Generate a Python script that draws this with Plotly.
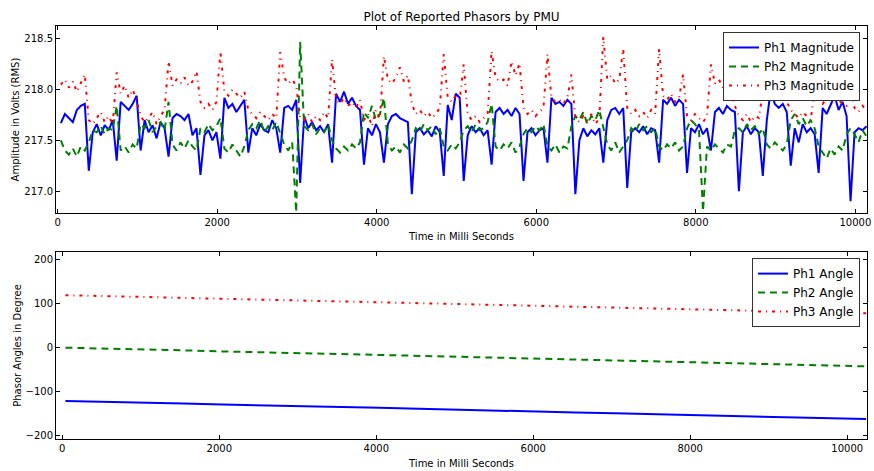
import plotly.graph_objects as go

# ---------------- data ----------------
TIME_MS = list(range(40, 10141, 50))

PH1_MAG = [
    217.67, 217.76, 217.72, 217.68, 217.80, 217.84, 217.86, 217.20, 217.58, 217.66,
    217.55, 217.65, 217.60, 217.70, 217.30, 217.88, 217.84, 217.80, 217.86, 217.94,
    217.40, 217.70, 217.58, 217.65, 217.52, 217.68, 217.62, 217.34, 217.72, 217.76,
    217.74, 217.70, 217.76, 217.55, 217.62, 217.16, 217.55, 217.60, 217.50, 217.58,
    217.32, 217.92, 217.82, 217.86, 217.78, 217.84, 217.90, 217.38, 217.62, 217.55,
    217.66, 217.60, 217.58, 217.70, 217.62, 217.38, 217.82, 217.84, 217.80, 217.90,
    217.08, 217.74, 217.62, 217.68, 217.60, 217.64, 217.58, 217.66, 217.28, 217.96,
    217.88, 217.98, 217.86, 217.92, 217.84, 217.80, 217.26, 217.62, 217.55, 217.66,
    217.58, 217.28, 217.66, 217.74, 217.76, 217.72, 217.70, 217.68, 216.97, 217.58,
    217.62, 217.56, 217.60, 217.54, 217.64, 217.58, 217.15, 217.85, 217.70, 217.96,
    217.92, 217.10, 217.55, 217.64, 217.58, 217.62, 217.55, 217.60, 217.26, 217.78,
    217.82, 217.76, 217.80, 217.74, 217.82, 217.76, 217.10, 217.58, 217.62, 217.55,
    217.60, 217.62, 217.28, 217.92, 217.86, 217.88, 217.84, 217.90, 217.86, 216.97,
    217.50, 217.62, 217.54, 217.60, 217.56, 217.62, 217.28, 217.70, 217.80, 217.82,
    217.76, 217.82, 217.03, 217.58, 217.62, 217.58, 217.64, 217.56, 217.62, 217.60,
    217.28, 217.90, 217.86, 217.92, 217.84, 217.90, 217.86, 217.18, 217.62, 217.58,
    217.66, 217.56, 217.62, 217.40, 217.78, 217.82, 217.76, 217.84, 217.80, 217.78,
    217.00, 217.58, 217.64, 217.56, 217.62, 217.58, 217.15, 217.70, 218.00, 217.86,
    217.82, 217.86, 217.78, 217.25, 217.62, 217.48, 217.66, 217.58, 217.62, 217.56,
    217.18, 217.82, 217.76, 217.86, 217.94, 217.80, 217.88, 217.74, 216.90, 217.58,
    217.62, 217.60, 217.64,
]

PH2_MAG = [
    217.50, 217.40, 217.36, 217.42, 217.34, 217.44, 217.40, 217.48, 217.60, 217.58,
    217.64, 217.56, 217.62, 217.60, 217.84, 217.40, 217.44, 217.38, 217.46, 217.42,
    217.66, 217.62, 217.70, 217.58, 217.64, 217.68, 217.60, 217.88, 217.46, 217.40,
    217.48, 217.42, 217.50, 217.44, 217.40, 217.62, 217.58, 217.66, 217.60, 217.64,
    217.72, 217.42, 217.38, 217.46, 217.40, 217.34, 217.44, 217.60, 217.66, 217.62,
    217.70, 217.58, 217.64, 217.60, 217.68, 217.56, 217.46, 217.40, 217.48, 216.79,
    218.47, 217.64, 217.60, 217.66, 217.56, 217.62, 217.58, 217.66, 217.50, 217.42,
    217.38, 217.44, 217.40, 217.46, 217.42, 217.48, 217.78, 217.72, 217.84, 217.70,
    217.76, 217.92, 217.46, 217.40, 217.44, 217.38, 217.46, 217.42, 217.50, 217.62,
    217.58, 217.66, 217.60, 217.64, 217.56, 217.62, 217.44, 217.40, 217.46, 217.42,
    217.48, 217.60, 217.64, 217.58, 217.66, 217.60, 217.62, 217.68, 217.86, 217.44,
    217.40, 217.46, 217.42, 217.48, 217.38, 217.44, 217.56, 217.62, 217.58, 217.64,
    217.60, 217.66, 217.44, 217.40, 217.46, 217.38, 217.44, 217.42, 217.64, 217.74,
    217.70, 217.78, 217.66, 217.74, 217.70, 217.80, 217.62, 217.46, 217.40, 217.48,
    217.38, 217.44, 217.50, 217.62, 217.58, 217.66, 217.60, 217.64, 217.58, 217.62,
    217.44, 217.40, 217.46, 217.42, 217.48, 217.40, 217.44, 217.62, 217.70, 217.66,
    217.60, 216.80, 217.44, 217.40, 217.46, 217.42, 217.38, 217.46, 217.44, 217.60,
    217.62, 217.58, 217.66, 217.60, 217.64, 217.56, 217.62, 217.46, 217.42, 217.48,
    217.44, 217.40, 217.46, 217.70, 217.76, 217.66, 217.72, 217.64, 217.70, 217.62,
    217.44, 217.38, 217.32, 217.42, 217.36, 217.44, 217.40, 217.56, 217.62, 217.56,
    217.48, 217.60, 217.54,
]

PH3_MAG = [
    218.05, 218.10, 218.02, 218.08, 217.98, 218.06, 218.15, 217.70, 217.66, 217.72,
    217.78, 217.68, 217.74, 217.66, 218.17, 217.96, 218.04, 217.92, 218.00, 217.90,
    217.74, 217.68, 217.72, 217.78, 217.66, 217.74, 217.80, 218.28, 218.04, 218.10,
    218.06, 218.12, 218.04, 218.08, 218.18, 217.88, 217.82, 217.86, 217.80, 217.88,
    218.38, 217.98, 217.94, 218.00, 217.96, 217.92, 217.98, 217.80, 217.76, 217.72,
    217.78, 217.74, 217.70, 217.76, 217.72, 218.37, 218.12, 218.06, 218.10, 218.04,
    217.72, 217.70, 217.76, 217.68, 217.74, 217.70, 217.78, 217.72, 218.30, 217.90,
    217.86, 217.92, 217.84, 217.88, 217.82, 217.90, 217.70, 217.76, 217.64, 217.80,
    217.72, 218.33, 218.10, 218.06, 218.12, 218.22, 218.08, 218.14, 217.86, 217.76,
    217.80, 217.74, 217.78, 217.72, 217.76, 217.82, 218.35, 217.92, 217.88, 217.94,
    217.90, 218.25, 217.76, 217.70, 217.74, 217.68, 217.72, 217.76, 218.38, 218.12,
    218.08, 218.10, 218.04, 218.28, 218.14, 218.26, 217.82, 217.76, 217.80, 217.74,
    217.78, 217.82, 218.35, 217.92, 217.88, 217.90, 217.86, 217.92, 218.15, 217.72,
    217.68, 217.74, 217.70, 217.76, 217.66, 217.72, 218.52, 218.10, 218.14, 218.06,
    218.10, 218.40, 217.82, 217.76, 217.80, 217.74, 217.78, 217.72, 217.80, 217.76,
    218.40, 217.94, 217.90, 217.96, 217.88, 217.92, 218.15, 217.74, 217.70, 217.76,
    217.72, 217.68, 217.74, 218.25, 218.06, 218.10, 218.02, 218.08, 218.00, 217.84,
    217.74, 217.70, 217.76, 217.68, 217.74, 217.72, 217.98, 217.94, 218.00, 217.96,
    217.90, 217.94, 217.88, 217.80, 217.76, 217.72, 217.78, 217.74, 217.70, 218.00,
    217.90, 217.86, 217.92, 217.88, 217.94, 217.90, 217.86, 217.84, 218.00, 217.82,
    217.78, 217.84, 217.80,
]

ANGLE_TIME_MS = [40, 540, 1040, 1540, 2040, 2540, 3040, 3540, 4040, 4540, 5040,
                 5540, 6040, 6540, 7040, 7540, 8040, 8540, 9040, 9540, 10040, 10240]
PH1_ANG = [-122.5, -124.0, -126.0, -128.0, -130.5, -132.0, -134.0, -136.0, -138.0, -140.0, -142.5,
           -144.5, -146.5, -148.5, -150.5, -152.5, -154.5, -156.5, -158.5, -160.5, -162.5, -163.5]
PH2_ANG = [-1.0, -2.5, -5.0, -7.0, -9.5, -11.0, -13.5, -15.5, -17.5, -19.5, -21.5,
           -23.5, -25.5, -27.5, -29.5, -31.5, -33.5, -35.5, -37.5, -40.0, -42.0, -43.5]
PH3_ANG = [118.5, 116.5, 114.5, 112.0, 110.0, 108.0, 106.5, 104.0, 102.0, 100.5, 98.5,
           96.0, 94.0, 92.5, 90.0, 88.0, 86.0, 84.5, 82.5, 80.0, 78.5, 77.5]

MAG_NAMES = ["Ph1 Magnitude", "Ph2 Magnitude", "Ph3 Magnitude"]
ANG_NAMES = ["Ph1 Angle", "Ph2 Angle", "Ph3 Angle"]
X_TICKS = [0, 2000, 4000, 6000, 8000, 10000]
MAG_TICKS = [217.0, 217.5, 218.0, 218.5]
ANG_TICKS = [-200, -100, 0, 100, 200]

# ---------------- styles ----------------
FONT = "DejaVu Sans"
STYLES = [
    dict(color="#0000ff", width=2, dash="solid"),
    dict(color="#008000", width=2, dash="7px,5px"),
    dict(color="#ff0000", width=2, dash="3px,5px,1px,5px"),
]

fig = go.Figure()
for name, ys, st in zip(MAG_NAMES, [PH1_MAG, PH2_MAG, PH3_MAG], STYLES):
    fig.add_trace(go.Scatter(x=TIME_MS, y=ys, name=name, mode="lines",
                             line=st, xaxis="x", yaxis="y", legend="legend"))
for name, ys, st in zip(ANG_NAMES, [PH1_ANG, PH2_ANG, PH3_ANG], STYLES):
    fig.add_trace(go.Scatter(x=ANGLE_TIME_MS, y=ys, name=name, mode="lines",
                             line=st, xaxis="x2", yaxis="y2", legend="legend2"))

axis_common = dict(showline=True, linecolor="black", linewidth=1, mirror="ticks",
                   ticks="inside", ticklen=4, tickcolor="black", showgrid=False,
                   zeroline=False, ticklabeloverflow="allow",
                   tickfont=dict(family=FONT, size=10, color="black"))

fig.update_layout(
    width=874, height=471,
    margin=dict(l=56, r=3, t=26, b=32),
    paper_bgcolor="white", plot_bgcolor="white",
    font=dict(family=FONT, size=10, color="black"),
    title=dict(text="Plot of Reported Phasors by PMU", x=0.5, xref="paper",
               y=1 - 17 / 471, yref="container", yanchor="middle",
               font=dict(family=FONT, size=12, color="black")),
    xaxis=dict(domain=[0, 1], range=[-21, 10146], tickvals=X_TICKS, tickformat="d",
               anchor="y",
               title=dict(text="Time in Milli Seconds", font=dict(size=10), standoff=5),
               **axis_common),
    yaxis=dict(domain=[0.547, 1.0], range=[216.783, 218.628], tickvals=MAG_TICKS,
               tickformat=".1f", anchor="x",
               title=dict(text="Amplitude in Volts (RMS)", font=dict(size=10), standoff=2),
               **axis_common),
    xaxis2=dict(domain=[0, 1], range=[-80, 10252], tickvals=X_TICKS, tickformat="d",
                anchor="y2",
                title=dict(text="Time in Milli Seconds", font=dict(size=10), standoff=6),
                **axis_common),
    yaxis2=dict(domain=[0, 0.4528], range=[-209, 217], tickvals=ANG_TICKS,
                anchor="x2",
                title=dict(text="Phasor Angles in Degree", font=dict(size=10), standoff=2),
                **axis_common),
    legend=dict(x=0.9914, y=0.9855, xanchor="right", yanchor="top",
                bgcolor="white", bordercolor="#333333", borderwidth=1,
                font=dict(family=FONT, size=12, color="black"), tracegroupgap=0),
    legend2=dict(x=0.9914, y=0.438, xanchor="right", yanchor="top",
                 bgcolor="white", bordercolor="#333333", borderwidth=1,
                 font=dict(family=FONT, size=12, color="black"), tracegroupgap=0),
    showlegend=True,
)

fig.write_html("out.html")
